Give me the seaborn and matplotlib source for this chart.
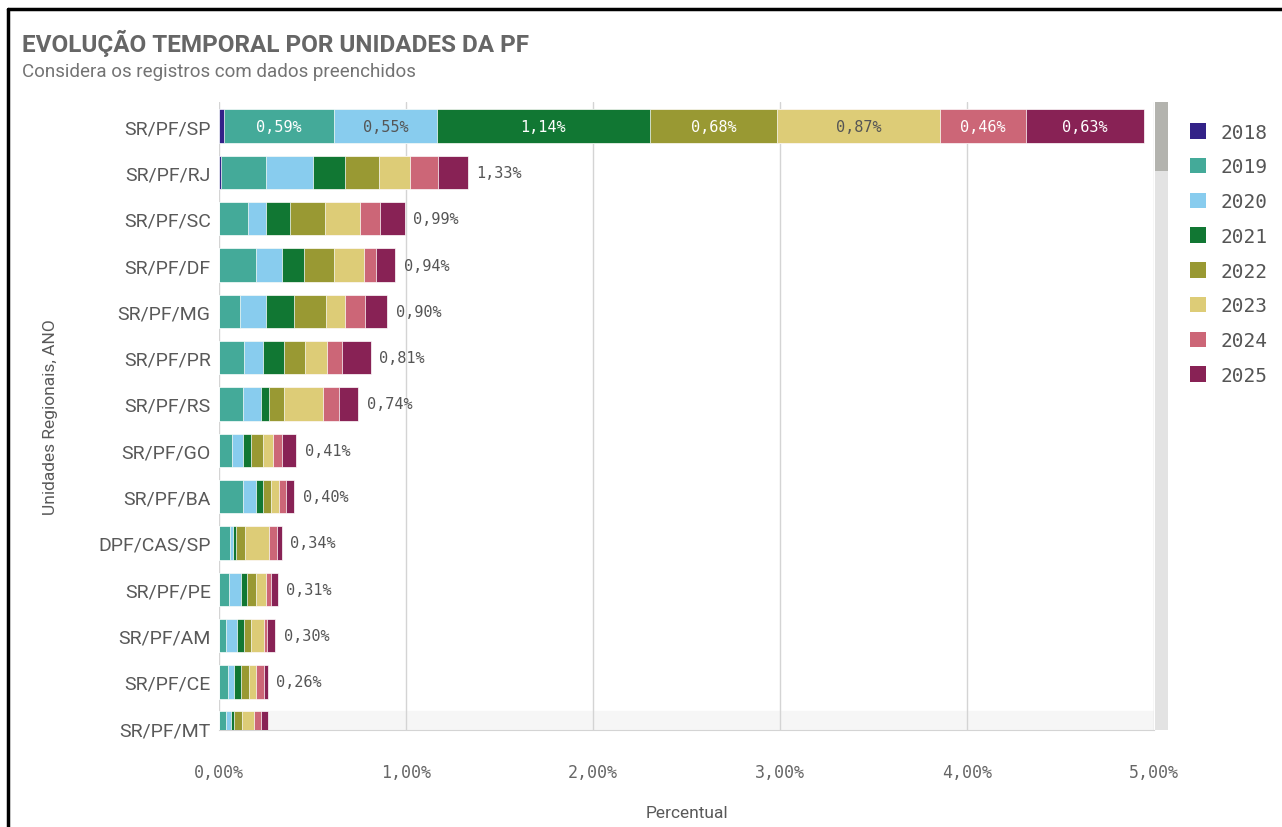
import matplotlib
matplotlib.use("Agg")
import matplotlib.pyplot as plt
from matplotlib.patches import Patch, Rectangle
from matplotlib.lines import Line2D
import seaborn as sns

# --- DATA ---
units = ["SR/PF/SP", "SR/PF/RJ", "SR/PF/SC", "SR/PF/DF", "SR/PF/MG", "SR/PF/PR", "SR/PF/RS",
         "SR/PF/GO", "SR/PF/BA", "DPF/CAS/SP", "SR/PF/PE", "SR/PF/AM", "SR/PF/CE", "SR/PF/MT"]
years = ["2018", "2019", "2020", "2021", "2022", "2023", "2024", "2025"]

v2018 = [0.025, 0.013, 0, 0, 0, 0, 0, 0, 0, 0, 0, 0, 0, 0]
v2019 = [0.59, 0.24, 0.153, 0.20, 0.111, 0.136, 0.13, 0.067, 0.128, 0.057, 0.055, 0.038, 0.046, 0.036]
v2020 = [0.55, 0.247, 0.099, 0.138, 0.141, 0.099, 0.094, 0.061, 0.071, 0.016, 0.06, 0.056, 0.036, 0.027]
v2021 = [1.14, 0.174, 0.13, 0.119, 0.15, 0.115, 0.044, 0.044, 0.034, 0.016, 0.036, 0.042, 0.038, 0.019]
v2022 = [0.68, 0.18, 0.186, 0.16, 0.17, 0.111, 0.08, 0.063, 0.044, 0.05, 0.048, 0.036, 0.041, 0.04]
v2023 = [0.87, 0.168, 0.187, 0.157, 0.102, 0.116, 0.206, 0.052, 0.042, 0.128, 0.053, 0.066, 0.038, 0.065]
v2024 = [0.46, 0.151, 0.105, 0.067, 0.109, 0.083, 0.09, 0.048, 0.037, 0.043, 0.025, 0.021, 0.044, 0.035]
v2025 = [0.63, 0.159, 0.132, 0.101, 0.118, 0.151, 0.1, 0.078, 0.046, 0.027, 0.037, 0.042, 0.019, 0.038]
series = [v2018, v2019, v2020, v2021, v2022, v2023, v2024, v2025]

colors = ["#332288", "#44AA99", "#88CCEE", "#117733", "#999933", "#DDCC77", "#CC6677", "#882255"]
dark_text = {"2020", "2023"}

x_ticks = [0, 1, 2, 3, 4, 5]

def pct(v):
    return f"{v:.2f}%".replace(".", ",")

# --- STYLE ---
sns.set_style("white")
SANS = ["Roboto", "DejaVu Sans"]
MONO = ["DejaVu Sans Mono"]
GRAY = "#595959"

fig = plt.figure(figsize=(12.82, 8.28), dpi=100)
ax = fig.add_axes([219 / 1282, 1 - 731 / 828, 935 / 1282, 628 / 828])

# highlighted last row (partly scrolled out)
ax.axhspan(12.635, 13.1, color="#f6f6f6", zorder=0)

# stacked bars: draw cumulative sums from the largest down
cums = []
run = [0.0] * len(units)
for s in series:
    run = [a + b for a, b in zip(run, s)]
    cums.append(run)

for k in range(len(years) - 1, -1, -1):
    sns.barplot(x=cums[k], y=units, order=units, orient="h", color=colors[k],
                saturation=1, width=0.72, errorbar=None, ax=ax,
                edgecolor="white", linewidth=0.5, zorder=3)

# labels inside the first (big) bar
left = 0.0
for k, y in enumerate(years):
    v = series[k][0]
    if v >= 0.2:
        ax.text(left + v / 2, 0, pct(v), ha="center", va="center", fontsize=11,
                family=MONO, color="#555555" if y in dark_text else "white", zorder=5)
    left += v

# totals for the other bars
totals = cums[-1]
for i in range(1, len(units) - 1):
    ax.text(totals[i] + 0.045, i, pct(totals[i]), ha="left", va="center",
            fontsize=11, family=MONO, color="#555555", zorder=5)

ax.set_xlim(0, 5)
ax.set_ylim(13.04, -0.52)
ax.set_xticks(x_ticks)
ax.set_xticklabels([pct(t) for t in x_ticks], family=MONO, fontsize=12, color="#666666")
ax.set_yticks(range(len(units)))
ax.set_yticklabels(units, family=SANS, fontsize=14, color=GRAY)
ax.xaxis.grid(True, color="#d4d4d4", linewidth=1, zorder=1)
ax.set_axisbelow(True)
ax.tick_params(axis="x", length=10, width=1, color="#d4d4d4", pad=14)
ax.tick_params(axis="y", length=0, pad=6)
for sp in ["top", "right", "left"]:
    ax.spines[sp].set_visible(False)
ax.spines["bottom"].set_color("#d4d4d4")

ax.set_xlabel("Percentual", family=SANS, fontsize=12.5, color=GRAY)
ax.xaxis.set_label_coords(0.5, -0.12)
ax.set_ylabel("Unidades Regionais, ANO", family=SANS, fontsize=12.5, color=GRAY)
ax.yaxis.set_label_coords(-0.172, 0.5)

# legend
handles = [Patch(facecolor=c, edgecolor="none", label=y) for c, y in zip(colors, years)]
leg = fig.legend(handles=handles, loc="upper left", bbox_to_anchor=(1180 / 1282, 1 - 114 / 828),
                 frameon=False, prop={"family": MONO, "size": 14}, handlelength=0.85,
                 handleheight=0.85, handletextpad=0.75, labelspacing=0.81, borderpad=0)
for t in leg.get_texts():
    t.set_color("#555555")

# scrollbar
fig.add_artist(Rectangle((1155 / 1282, 1 - 731 / 828), 13 / 1282, 628 / 828,
                         transform=fig.transFigure, facecolor="#e3e3e3", edgecolor="none"))
fig.add_artist(Rectangle((1155 / 1282, 1 - 172 / 828), 13 / 1282, 69 / 828,
                         transform=fig.transFigure, facecolor="#b3b3ae", edgecolor="none"))

# titles
fig.text(22 / 1282, 1 - 43 / 828, "EVOLUÇÃO TEMPORAL POR UNIDADES DA PF", family=SANS,
         fontsize=17.5, fontweight="bold", color="#666666", va="center", ha="left")
fig.text(22 / 1282, 1 - 72 / 828, "Considera os registros com dados preenchidos", family=SANS,
         fontsize=13.5, color="#737373", va="center", ha="left")

# outer frame of the screenshot
fig.add_artist(Line2D([8 / 1282, 1.0], [1 - 10 / 828, 1 - 10 / 828], transform=fig.transFigure,
                      color="black", linewidth=2.5))
fig.add_artist(Line2D([8 / 1282, 8 / 1282], [0.0, 1 - 10 / 828], transform=fig.transFigure,
                      color="black", linewidth=2.5))

fig.savefig("out.png", dpi=100, facecolor="white")
